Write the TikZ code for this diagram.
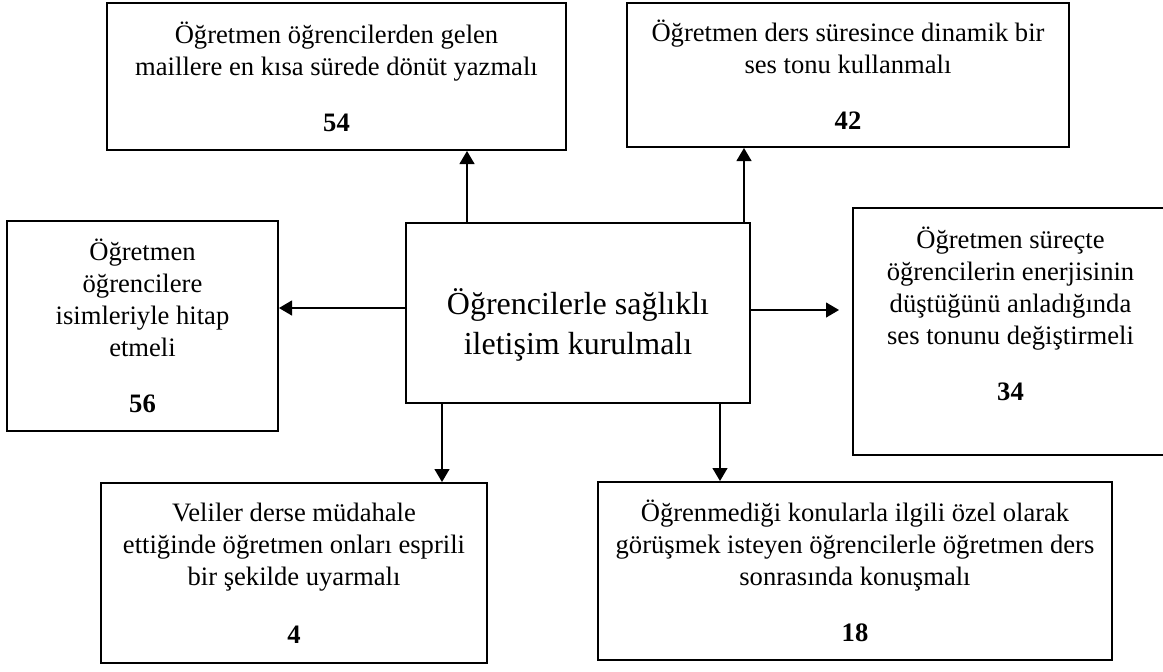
\documentclass[tikz,border=0pt]{standalone}
\usepackage{fontspec}
\setmainfont{Liberation Serif}
\usetikzlibrary{arrows.meta}

\begin{document}
\begin{tikzpicture}[x=0.5pt,y=-0.5pt,
    box/.style={draw,line width=1pt,align=center,inner sep=0pt,font=\fontsize{13.3}{16}\selectfont},
    arr/.style={-{Triangle[length=6.5pt,width=7.5pt]},line width=0.6pt}]
    \useasboundingbox (0,0) rectangle (1163,671);
    \clip (0,0) rectangle (1163,671);

    % Center
    \node[box,minimum width=172pt,minimum height=90pt,font=\fontsize{16}{20}\selectfont] (merkez) at (578,313)
        {\mbox{}\\[5pt]Öğrencilerle sağlıklı\\iletişim kurulmalı};

    % Top row
    \node[box,minimum width=229.5pt,minimum height=73.5pt] (mail) at (336.5,76.5)
        {Öğretmen öğrencilerden gelen\\maillere en kısa sürede dönüt yazmalı\\[12pt]\textbf{54}};
    \node[box,minimum width=221pt,minimum height=72pt] (ses) at (848,75)
        {Öğretmen ders süresince dinamik bir\\ses tonu kullanmalı\\[12pt]\textbf{42}};

    % Left and right
    \node[box,minimum width=135.5pt,minimum height=105pt] (isim) at (142.5,326)
        {Öğretmen\\öğrencilere\\isimleriyle hitap\\etmeli\\[12pt]\textbf{56}};
    \node[box,minimum width=157.5pt,minimum height=123.5pt] (enerji) at (1010.5,331.5)
        {Öğretmen süreçte\\öğrencilerin enerjisinin\\düştüğünü anladığında\\ses tonunu değiştirmeli\\[12pt]\textbf{34}\\[2pt]\mbox{}};

    % Bottom row
    \node[box,minimum width=193pt,minimum height=90pt] (veli) at (294,573)
        {Veliler derse müdahale\\ettiğinde öğretmen onları esprili\\bir şekilde uyarmalı\\[13pt]\textbf{4}};
    \node[box,minimum width=257pt,minimum height=89pt] (gorusme) at (855,571)
        {Öğrenmediği konularla ilgili özel olarak\\görüşmek isteyen öğrencilerle öğretmen ders\\sonrasında konuşmalı\\[12pt]\textbf{18}};

    % arrows
    \coordinate (k1) at (467,0); \coordinate (k2) at (744,0);
    \coordinate (k3) at (0,308); \coordinate (k4) at (0,310);
    \coordinate (k5) at (442,0); \coordinate (k6) at (720,0);
    \draw[arr] (merkez.north -| k1) -- (mail.south -| k1);
    \draw[arr] (merkez.north -| k2) -- (ses.south -| k2);
    \draw[arr] (merkez.west |- k3) -- (isim.east |- k3);
    \draw[arr,shorten >=6.5pt] (merkez.east |- k4) -- (enerji.west |- k4);
    \draw[arr] (merkez.south -| k5) -- (veli.north -| k5);
    \draw[arr] (merkez.south -| k6) -- (gorusme.north -| k6);
\end{tikzpicture}
\end{document}
